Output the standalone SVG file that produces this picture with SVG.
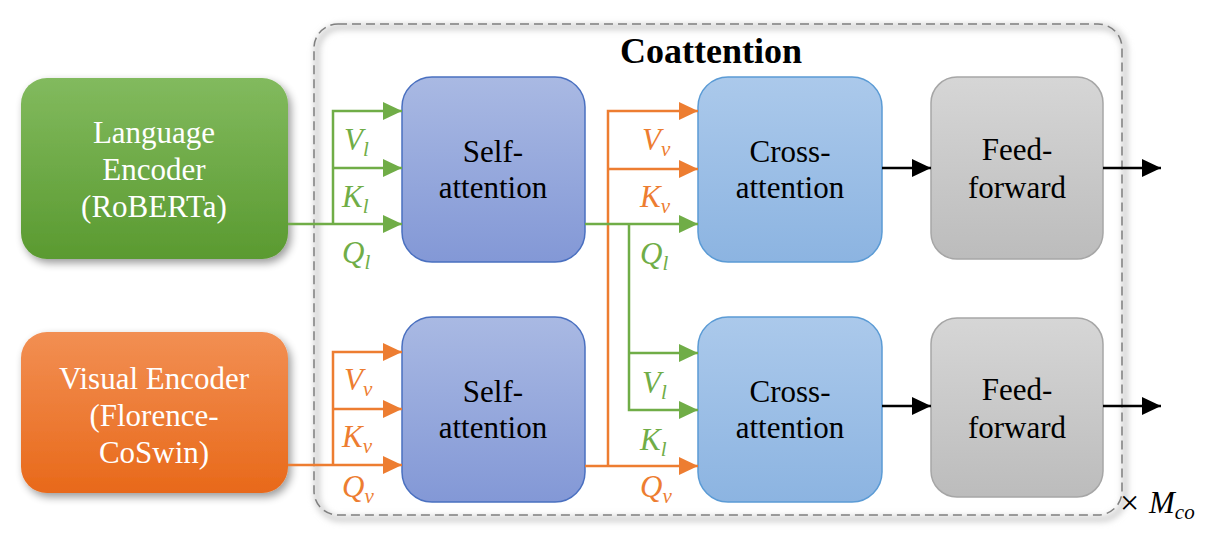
<svg xmlns="http://www.w3.org/2000/svg" width="1226" height="552" viewBox="0 0 1226 552" font-family="'Liberation Serif', 'DejaVu Serif', serif">
<style>
text{font-family:'Liberation Serif','DejaVu Serif',serif}
.t{font-size:31px;text-anchor:middle;fill:#000}
.tw{fill:#fff}
.m{font-style:italic;font-size:31px}
.s{font-size:21px}
.g{fill:#70ad47}
.o{fill:#ed7d31}
.lg{stroke:#70ad47;stroke-width:2.5;fill:none}
.lo{stroke:#ed7d31;stroke-width:2.5;fill:none}
.lk{stroke:#000;stroke-width:2.5;fill:none}
</style>
<defs>
<linearGradient id="gG" x1="0" y1="0" x2="0" y2="1"><stop offset="0" stop-color="#82ba5e"/><stop offset="1" stop-color="#5a9a30"/></linearGradient>
<linearGradient id="gO" x1="0" y1="0" x2="0" y2="1"><stop offset="0" stop-color="#f28f53"/><stop offset="1" stop-color="#e8691a"/></linearGradient>
<linearGradient id="gS" x1="0" y1="0" x2="0" y2="1"><stop offset="0" stop-color="#a9b9e3"/><stop offset="1" stop-color="#8398d6"/></linearGradient>
<linearGradient id="gC" x1="0" y1="0" x2="0" y2="1"><stop offset="0" stop-color="#abc9eb"/><stop offset="1" stop-color="#8cb4e1"/></linearGradient>
<linearGradient id="gF" x1="0" y1="0" x2="0" y2="1"><stop offset="0" stop-color="#d6d6d6"/><stop offset="1" stop-color="#bcbcbc"/></linearGradient>
<filter id="sh" x="-20%" y="-20%" width="140%" height="140%"><feGaussianBlur in="SourceAlpha" stdDeviation="4"/><feOffset dx="3" dy="4"/><feComponentTransfer><feFuncA type="linear" slope="0.4"/></feComponentTransfer><feMerge><feMergeNode/><feMergeNode in="SourceGraphic"/></feMerge></filter>
<filter id="bl" x="-5%" y="-5%" width="110%" height="110%"><feGaussianBlur stdDeviation="3"/></filter>
<marker id="aG" markerUnits="userSpaceOnUse" markerWidth="19" markerHeight="18" refX="19" refY="9" orient="auto"><path d="M0,0 L19,9 L0,18 z" fill="#70ad47"/></marker>
<marker id="aO" markerUnits="userSpaceOnUse" markerWidth="19" markerHeight="18" refX="19" refY="9" orient="auto"><path d="M0,0 L19,9 L0,18 z" fill="#ed7d31"/></marker>
<marker id="aK" markerUnits="userSpaceOnUse" markerWidth="19" markerHeight="18" refX="19" refY="9" orient="auto"><path d="M0,0 L19,9 L0,18 z" fill="#000"/></marker>
</defs>
<rect width="1226" height="552" fill="#fff"/>

<g id="coattention">
<rect x="317" y="27" width="808" height="492" rx="24" fill="none" stroke="#c8c8c8" stroke-width="5" filter="url(#bl)"/>
<rect x="314" y="24" width="808" height="491" rx="24" fill="none" stroke="#7f7f7f" stroke-width="1.5" stroke-dasharray="9,5"/>
<text x="711" y="63" class="t" font-weight="bold" style="font-weight:bold;font-size:36px">Coattention</text>
<text x="1120" y="514" style="font-size:34px">×</text>
<text x="1149" y="513" class="m" style="font-size:31px">M<tspan class="s" dy="6">co</tspan></text>
</g>

<g id="lang-encoder">
<rect x="21" y="78" width="267" height="181" rx="26" fill="url(#gG)" filter="url(#sh)"/>
<text class="t tw" x="154" y="143">Language</text>
<text class="t tw" x="154" y="180">Encoder</text>
<text class="t tw" x="154" y="217">(RoBERTa)</text>
</g>

<g id="visual-encoder">
<rect x="21" y="332" width="267" height="161" rx="26" fill="url(#gO)" filter="url(#sh)"/>
<text class="t tw" x="154" y="389">Visual Encoder</text>
<text class="t tw" x="154" y="426">(Florence-</text>
<text class="t tw" x="154" y="463">CoSwin)</text>
</g>

<g id="self-attn-l">
<rect x="402" y="77" width="183" height="185" rx="30" fill="url(#gS)" stroke="#4a70c0" stroke-width="1.5"/>
<text class="t" x="493" y="162">Self-</text>
<text class="t" x="493" y="198">attention</text>
</g>
<g id="self-attn-v">
<rect x="402" y="317" width="183" height="185" rx="30" fill="url(#gS)" stroke="#4a70c0" stroke-width="1.5"/>
<text class="t" x="493" y="402">Self-</text>
<text class="t" x="493" y="438">attention</text>
</g>
<g id="cross-attn-l">
<rect x="698" y="77" width="184" height="185" rx="30" fill="url(#gC)" stroke="#5b9bd5" stroke-width="1.5"/>
<text class="t" x="790" y="162">Cross-</text>
<text class="t" x="790" y="198">attention</text>
</g>
<g id="cross-attn-v">
<rect x="698" y="317" width="184" height="185" rx="30" fill="url(#gC)" stroke="#5b9bd5" stroke-width="1.5"/>
<text class="t" x="790" y="402">Cross-</text>
<text class="t" x="790" y="438">attention</text>
</g>
<g id="ff-l">
<rect x="931" y="77" width="172" height="182" rx="26" fill="url(#gF)" stroke="#a6a6a6" stroke-width="1.5"/>
<text class="t" x="1017" y="160">Feed-</text>
<text class="t" x="1017" y="198">forward</text>
</g>
<g id="ff-v">
<rect x="931" y="318" width="172" height="179" rx="26" fill="url(#gF)" stroke="#a6a6a6" stroke-width="1.5"/>
<text class="t" x="1017" y="400">Feed-</text>
<text class="t" x="1017" y="438">forward</text>
</g>

<g id="connectors">
<path class="lg" d="M288,224 H402" marker-end="url(#aG)"/>
<path class="lg" d="M333,224 V111 H402" marker-end="url(#aG)"/>
<path class="lg" d="M333,168 H402" marker-end="url(#aG)"/>
<path class="lo" d="M288,465 H402" marker-end="url(#aO)"/>
<path class="lo" d="M333,465 V352 H402" marker-end="url(#aO)"/>
<path class="lo" d="M333,409 H402" marker-end="url(#aO)"/>
<path class="lo" d="M585,466 H698" marker-end="url(#aO)"/>
<path class="lo" d="M608,466 V111 H698" marker-end="url(#aO)"/>
<path class="lo" d="M608,169 H698" marker-end="url(#aO)"/>
<path class="lg" d="M585,224 H698" marker-end="url(#aG)"/>
<path class="lg" d="M629,224 V410 H698" marker-end="url(#aG)"/>
<path class="lg" d="M629,353 H698" marker-end="url(#aG)"/>
<path class="lk" d="M882,168 H931" marker-end="url(#aK)"/>
<path class="lk" d="M1103,168 H1161" marker-end="url(#aK)"/>
<path class="lk" d="M882,406 H931" marker-end="url(#aK)"/>
<path class="lk" d="M1103,406 H1161" marker-end="url(#aK)"/>
</g>

<g id="labels">
<text class="m g" x="344" y="150">V<tspan class="s" dy="6">l</tspan></text>
<text class="m g" x="342" y="207">K<tspan class="s" dy="6">l</tspan></text>
<text class="m g" x="342" y="263">Q<tspan class="s" dy="6">l</tspan></text>
<text class="m o" x="344" y="390">V<tspan class="s" dy="6">v</tspan></text>
<text class="m o" x="342" y="447">K<tspan class="s" dy="6">v</tspan></text>
<text class="m o" x="342" y="497">Q<tspan class="s" dy="6">v</tspan></text>
<text class="m o" x="642" y="150">V<tspan class="s" dy="6">v</tspan></text>
<text class="m o" x="640" y="207">K<tspan class="s" dy="6">v</tspan></text>
<text class="m g" x="640" y="264">Q<tspan class="s" dy="6">l</tspan></text>
<text class="m g" x="642" y="393">V<tspan class="s" dy="6">l</tspan></text>
<text class="m g" x="640" y="450">K<tspan class="s" dy="6">l</tspan></text>
<text class="m o" x="640" y="497">Q<tspan class="s" dy="6">v</tspan></text>
</g>
</svg>
